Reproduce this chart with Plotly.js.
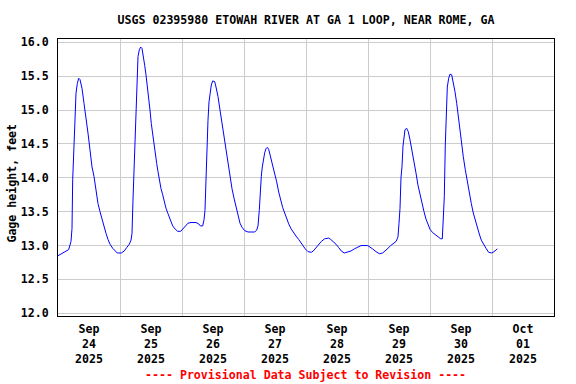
<!DOCTYPE html>
<html><head><meta charset="utf-8">
<script src="https://cdn.plot.ly/plotly-3.0.1.min.js"></script>
<style>html,body{margin:0;padding:0;background:#fff}</style>
</head><body><div id="chart" style="width:576px;height:384px"></div>
<script>
const chartTitle = "USGS 02395980 ETOWAH RIVER AT GA 1 LOOP, NEAR ROME, GA";
const yAxisTitle = "Gage height, feet";
const footerText = "---- Provisional Data Subject to Revision ----";
const startTimeUTC = Date.UTC(2025, 8, 24, 0, 0, 0);
const xRange = ["2025-09-24 00:00", "2025-10-02 00:00"];
const yRange = [11.96, 16.049];
const yTickValues = [12.0, 12.5, 13.0, 13.5, 14.0, 14.5, 15.0, 15.5, 16.0];
const xTickFormat = "%b<br>%d<br>%Y";

const hoursSinceStart = [
0,2,4.14,5.03,5.42,5.69,6.08,6.46,6.97,7.47,8.01,8.52,9.29,10.06,10.84,11.61,12.39,13.16,13.94,14.71,
15.48,16.26,17.03,17.81,18.58,19.35,20.13,21.17,22.18,22.95,24.5,25.66,26.59,27.6,28.26,28.65,29.03,29.42,29.81,30.19,
30.58,30.97,31.47,32.01,32.52,33.02,33.56,34.06,34.57,35.11,35.61,36.12,36.66,37.16,37.66,38.21,38.71,39.21,39.87,40.53,
41.15,41.81,42.58,43.35,44.4,45.41,46.34,47.5,48.27,49.28,50.32,51.48,53.42,54.46,55.08,56.01,56.52,56.9,57.29,57.68,
58.06,58.45,58.84,59.34,59.88,60.66,61.16,61.94,62.71,63.48,64.26,65.03,65.81,66.58,67.35,68.13,68.9,69.68,70.45,71.23,
72.27,73.55,76.14,76.92,77.42,77.92,78.31,78.7,79.08,79.47,80.01,80.52,81.02,81.56,82.34,83.11,83.88,84.66,85.43,86.21,
86.98,87.76,88.53,89.3,90.19,91.08,92.13,93.17,94.06,94.95,95.73,96.77,98.05,98.83,99.87,100.92,101.92,103.24,104.79,105.56,
106.57,107.61,108.66,109.66,110.83,112.14,113.42,114.7,116.01,117.29,119.88,120.77,121.82,123.1,124.37,125.69,126.7,127.74,128.79,129.79,
130.84,131.34,131.61,132.0,132.39,132.77,133.16,133.55,133.94,134.32,134.98,135.6,136.26,137.03,137.81,138.58,139.35,140.13,140.9,141.68,
142.45,143.23,144.0,145.05,146.05,147.1,148.14,148.76,149.15,149.54,149.92,150.31,150.7,151.24,151.74,152.4,153.02,153.68,154.34,154.95,
155.61,156.27,156.89,157.66,158.44,159.21,159.99,160.76,161.54,162.31,163.08,163.86,164.63,165.68,166.72,167.88,168.77,169.55,170.05
];
const gageHeightFt = [
12.85,12.89,12.94,13.06,13.25,13.97,14.36,14.91,15.25,15.39,15.47,15.45,15.32,15.10,14.90,14.66,14.41,14.16,14.02,13.79,
13.62,13.50,13.38,13.28,13.18,13.09,13.02,12.96,12.91,12.89,12.89,12.92,12.97,13.02,13.08,13.18,13.67,14.07,14.71,15.12,
15.52,15.79,15.89,15.93,15.91,15.81,15.66,15.52,15.36,15.22,15.00,14.80,14.63,14.48,14.34,14.21,14.09,13.97,13.84,13.75,
13.65,13.55,13.47,13.38,13.29,13.24,13.21,13.21,13.24,13.29,13.33,13.34,13.34,13.32,13.29,13.29,13.38,13.52,13.97,14.63,
14.85,15.12,15.27,15.37,15.43,15.42,15.34,15.20,15.00,14.80,14.61,14.41,14.21,14.02,13.84,13.70,13.57,13.43,13.33,13.27,
13.22,13.20,13.20,13.23,13.29,13.52,13.82,14.02,14.16,14.27,14.37,14.43,14.45,14.42,14.31,14.19,14.07,13.94,13.79,13.67,
13.56,13.48,13.39,13.32,13.25,13.19,13.14,13.09,13.04,12.99,12.95,12.91,12.90,12.92,12.97,13.02,13.06,13.10,13.11,13.09,
13.06,13.02,12.97,12.92,12.89,12.90,12.92,12.95,12.98,13.00,13.00,12.98,12.95,12.91,12.88,12.89,12.92,12.96,13.00,13.03,
13.06,13.10,13.13,13.33,13.55,14.00,14.17,14.47,14.58,14.71,14.73,14.68,14.56,14.41,14.24,14.07,13.89,13.75,13.62,13.50,
13.39,13.30,13.24,13.19,13.16,13.13,13.10,13.10,13.33,13.72,14.48,15.00,15.34,15.47,15.53,15.52,15.42,15.27,15.10,14.90,
14.71,14.51,14.31,14.12,13.94,13.77,13.62,13.48,13.37,13.25,13.17,13.08,13.02,12.96,12.90,12.89,12.91,12.93,12.95
];

function toDateString(h) {
  return new Date(startTimeUTC + h * 3600000).toISOString().slice(0, 19).replace("T", " ");
}
const timeStamps = hoursSinceStart.map(toDateString);

const FONT = "DejaVu Sans Mono, Liberation Mono, monospace";
const tickFont = {family: FONT, size: 11.6, color: "#000000", weight: "bold"};

const trace = {
  x: timeStamps, y: gageHeightFt, type: "scatter", mode: "lines",
  line: {color: "#0000ff", width: 1}, hoverinfo: "skip"
};

const layout = {
  width: 576, height: 384,
  margin: {l: 58, r: 22, t: 39, b: 68, pad: 0},
  paper_bgcolor: "#ffffff", plot_bgcolor: "#ffffff",
  showlegend: false,
  font: {family: FONT, size: 11.6, color: "#000000", weight: "bold"},
  title: {text: "<b>" + chartTitle + "</b>", x: 0.5, xref: "paper", xanchor: "center",
          y: 1 - 20 / 384, yref: "container", yanchor: "middle",
          font: {family: FONT, size: 11.6, color: "#000000"}},
  xaxis: {
    type: "date", range: xRange, fixedrange: true,
    dtick: 86400000, tick0: "2025-09-24 00:00",
    ticklabelmode: "period", tickformat: xTickFormat,
    showgrid: true, gridcolor: "#cccccc", gridwidth: 1,
    ticks: "", showline: true, linecolor: "#000000", linewidth: 1, mirror: true,
    zeroline: false, tickfont: tickFont,
    ticklabelstandoff: 2
  },
  yaxis: {
    range: yRange, fixedrange: true,
    tickmode: "array", tickvals: yTickValues, tickformat: ".1f",
    showgrid: true, gridcolor: "#cccccc", gridwidth: 1,
    ticks: "", showline: true, linecolor: "#000000", linewidth: 1, mirror: true,
    zeroline: false, tickfont: tickFont,
    ticklabelstandoff: 6
  },
  annotations: [
    {text: "<b>" + yAxisTitle + "</b>", xref: "paper", yref: "paper",
     x: (12 - 58) / 496, y: 0.478, xanchor: "center", yanchor: "middle",
     textangle: -90, showarrow: false, font: {family: FONT, size: 11.6, color: "#000000"}},
    {text: "<b>" + footerText + "</b>", xref: "paper", yref: "paper",
     x: 0.499, y: (316 - 375) / 277, xanchor: "center", yanchor: "middle",
     showarrow: false, font: {family: FONT, size: 11.6, color: "#ff0000"}}
  ]
};

Plotly.newPlot("chart", [trace], layout, {staticPlot: true, displayModeBar: false});
</script>
</body></html>
